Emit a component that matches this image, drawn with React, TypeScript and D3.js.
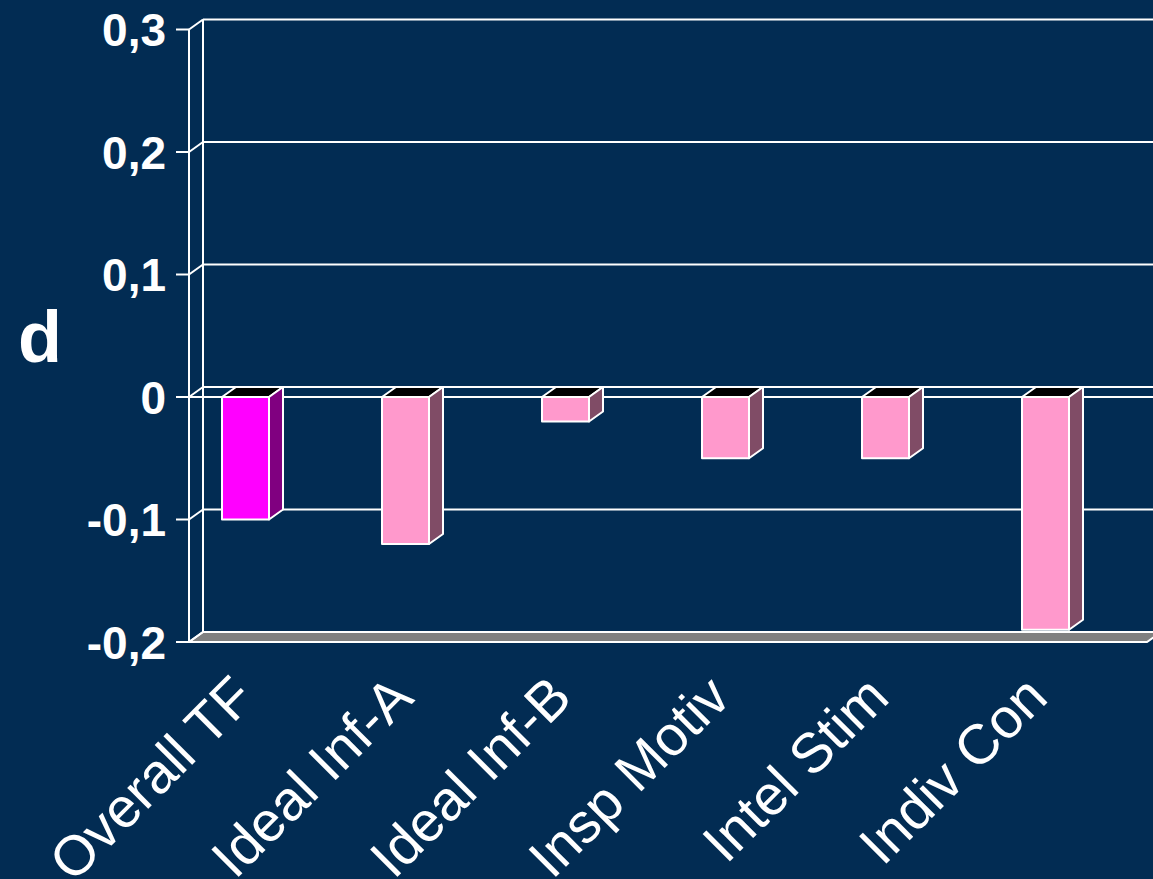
import React from "react";
import * as d3 from "d3";

const categories = ["Overall TF", "Ideal Inf-A", "Ideal Inf-B", "Insp Motiv", "Intel Stim", "Indiv Con"];
const values = [-0.1, -0.12, -0.02, -0.05, -0.05, -0.19];
const frontColors = ["#ff00ff", "#ff99cc", "#ff99cc", "#ff99cc", "#ff99cc", "#ff99cc"];
const sideColors = ["#800080", "#804c66", "#804c66", "#804c66", "#804c66", "#804c66"];
const tickValues = [0.3, 0.2, 0.1, 0, -0.1, -0.2];
const tickLabels = ["0,3", "0,2", "0,1", "0", "-0,1", "-0,2"];

const W = 1153;
const H = 879;
const DX = 14;
const DY = -10;

export default function App() {
  const y = d3.scaleLinear().domain([-0.2, 0.3]).range([642, 29.5]);
  const x = d3.scaleBand<string>().domain(categories).range([189, 1149]).padding(0);
  const xl = d3.scalePoint<string>().domain(categories).range([257, 1050]);
  const barW = 47;
  const barOff = 33;
  const axisX = 189;
  const font = "Arial, 'Liberation Sans', Helvetica, sans-serif";
  const y0 = y(0);

  return (
    <div style={{ position: "fixed", left: 0, top: 0, width: W, height: H, overflow: "hidden" }}>
      <svg width={W} height={H} style={{ display: "block", background: "#022c53" }}>
        <rect x={0} y={0} width={W} height={H} fill="#022c53" />
        {tickValues.slice(0, 5).map((t) => (
          <line key={"g" + t} x1={axisX + DX} x2={W} y1={y(t) + DY} y2={y(t) + DY} stroke="#ffffff" strokeWidth={2} />
        ))}
        <line x1={axisX + DX} x2={axisX + DX} y1={y(0.3) + DY} y2={y(-0.2) + DY} stroke="#ffffff" strokeWidth={2} />
        <path
          d={`M${axisX},${y(-0.2)} L${1147},${y(-0.2)} L${1147 + DX},${y(-0.2) + DY} L${axisX + DX},${y(-0.2) + DY} Z`}
          fill="#808080"
          stroke="#ffffff"
          strokeWidth={2}
        />
        <line x1={axisX} x2={axisX} y1={y(0.3)} y2={y(-0.2)} stroke="#ffffff" strokeWidth={2} />
        {tickValues.map((t, i) => (
          <g key={"t" + t}>
            <line x1={axisX - 13} x2={axisX} y1={y(t)} y2={y(t)} stroke="#ffffff" strokeWidth={2} />
            <line x1={axisX} x2={axisX + DX} y1={y(t)} y2={y(t) + DY} stroke="#ffffff" strokeWidth={2} />
            <text
              x={166}
              y={y(t)}
              dy="0.36em"
              textAnchor="end"
              fill="#ffffff"
              fontFamily={font}
              fontWeight="bold"
              fontSize={46}
            >
              {tickLabels[i]}
            </text>
          </g>
        ))}
        <line x1={axisX} x2={W} y1={y0} y2={y0} stroke="#ffffff" strokeWidth={2} />
        {categories.map((c, i) => {
          const x0 = (x(c) as number) + barOff;
          const x1 = x0 + barW;
          const yv = y(values[i]);
          return (
            <g key={c} stroke="#ffffff" strokeWidth={2} strokeLinejoin="round">
              <path d={`M${x0},${y0} L${x1},${y0} L${x1 + DX},${y0 + DY} L${x0 + DX},${y0 + DY} Z`} fill="#000000" />
              <path d={`M${x1},${y0} L${x1 + DX},${y0 + DY} L${x1 + DX},${yv + DY} L${x1},${yv} Z`} fill={sideColors[i]} />
              <rect x={x0} y={y0} width={barW} height={yv - y0} fill={frontColors[i]} />
            </g>
          );
        })}
        <text x={18} y={362} fill="#ffffff" fontFamily={font} fontWeight="bold" fontSize={72}>
          d
        </text>
        {categories.map((c) => (
          <text
            key={"l" + c}
            transform={`translate(${xl(c)},${700}) rotate(-45)`}
            textAnchor="end"
            fill="#ffffff"
            fontFamily={font}
            fontSize={56}
          >
            {c}
          </text>
        ))}
      </svg>
    </div>
  );
}
